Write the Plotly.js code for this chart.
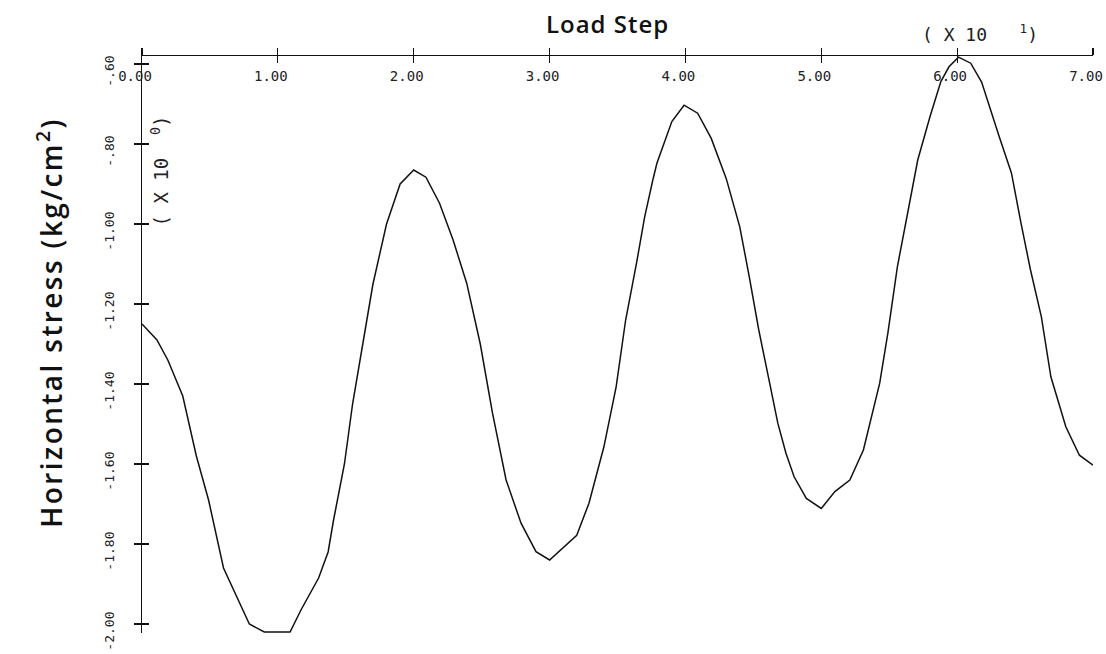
<!DOCTYPE html>
<html>
<head>
<meta charset="utf-8">
<script src="https://cdn.plot.ly/plotly-3.0.1.min.js"></script>
<style>html,body{margin:0;padding:0;background:#fff;}#chart{width:1106px;height:654px;}</style>
</head>
<body>
<div id="chart"></div>
<script>
// Load step (x 10) and horizontal stress (x 10^0 kg/cm^2)
const loadStep = [0.00,0.11,0.19,0.30,0.40,0.49,0.60,0.68,0.79,0.90,1.09,1.17,1.30,1.37,1.41,1.49,1.55,1.63,1.70,1.80,1.90,2.00,2.09,2.19,2.29,2.39,2.49,2.58,2.68,2.79,2.90,3.00,3.20,3.29,3.40,3.49,3.56,3.64,3.70,3.76,3.79,3.90,3.99,4.09,4.19,4.30,4.40,4.47,4.54,4.62,4.68,4.74,4.80,4.89,5.00,5.10,5.21,5.31,5.37,5.43,5.49,5.56,5.64,5.71,5.80,5.88,5.94,6.01,6.10,6.18,6.31,6.40,6.47,6.54,6.62,6.69,6.80,6.90,7.00];
const stress = [-1.25,-1.29,-1.34,-1.43,-1.58,-1.69,-1.86,-1.92,-2.00,-2.02,-2.02,-1.965,-1.885,-1.82,-1.74,-1.60,-1.45,-1.29,-1.15,-1.00,-0.90,-0.865,-0.883,-0.948,-1.04,-1.148,-1.30,-1.473,-1.64,-1.748,-1.819,-1.84,-1.778,-1.698,-1.557,-1.407,-1.24,-1.098,-0.982,-0.89,-0.848,-0.744,-0.703,-0.723,-0.786,-0.886,-1.007,-1.132,-1.265,-1.398,-1.498,-1.573,-1.632,-1.686,-1.711,-1.669,-1.64,-1.565,-1.482,-1.398,-1.273,-1.107,-0.965,-0.84,-0.732,-0.644,-0.607,-0.583,-0.598,-0.645,-0.782,-0.873,-0.998,-1.115,-1.232,-1.382,-1.507,-1.578,-1.603];

const xTickVals = [0,1,2,3,4,5,6,7];
const xTickText = ['0.00','1.00','2.00','3.00','4.00','5.00','6.00','7.00'];
const yTickVals = [-0.6,-0.8,-1.0,-1.2,-1.4,-1.6,-1.8,-2.0];
const yTickText = ['-.60','-.80','-1.00','-1.20','-1.40','-1.60','-1.80','-2.00'];

const xTitle = 'Load Step';
const yTitle = 'Horizontal stress (kg/cm<sup>2</sup>)';
const xScale = '(\u00a0X\u00a010\u00a0\u00a0\u00a0<sup>1</sup>)';
const yScale = '(\u00a0X\u00a010\u00a0\u00a0<sup>0</sup>)';

const mono = 'DejaVu Sans Mono, Liberation Mono, monospace';
const sans = 'Open Sans, Lato, sans-serif';

const traces = [
  {x: loadStep, y: stress, type: 'scatter', mode: 'lines',
   line: {color: '#111', width: 1.5}, hoverinfo: 'x+y'},
  {x: [], y: [], type: 'scatter', mode: 'lines', xaxis: 'x2', yaxis: 'y2', hoverinfo: 'skip', showlegend: false}
];

const layout = {
  width: 1106, height: 654,
  margin: {l: 142, r: 13, t: 56, b: 21},
  paper_bgcolor: '#fff', plot_bgcolor: '#fff',
  showlegend: false,
  xaxis: {
    side: 'top', range: [0, 7], showgrid: false, zeroline: false,
    showline: true, linecolor: '#111', linewidth: 1.5,
    tickmode: 'array', tickvals: xTickVals, ticktext: xTickText,
    ticks: 'outside', ticklen: 7, tickcolor: '#111', tickwidth: 1.2,
    ticklabelstandoff: -39, ticklabelshift: -7, ticklabeloverflow: 'allow',
    tickfont: {family: mono, size: 14, color: '#222'}
  },
  xaxis2: {
    side: 'top', overlaying: 'x', range: [0, 7], showgrid: false, zeroline: false,
    showline: false, tickmode: 'array', tickvals: xTickVals, showticklabels: false,
    ticks: 'inside', ticklen: 7, tickcolor: '#111', tickwidth: 1.2
  },
  yaxis: {
    range: [-2.0225, -0.58], showgrid: false, zeroline: false,
    showline: true, linecolor: '#111', linewidth: 1.5,
    tickmode: 'array', tickvals: yTickVals, ticktext: yTickText,
    ticks: 'outside', ticklen: 7, tickcolor: '#111', tickwidth: 1.2,
    tickangle: -90, ticklabelstandoff: 14, ticklabelshift: 9, ticklabeloverflow: 'allow',
    tickfont: {family: mono, size: 13, color: '#222'}
  },
  yaxis2: {
    overlaying: 'y', range: [-2.0225, -0.58], showgrid: false, zeroline: false,
    showline: false, tickmode: 'array', tickvals: yTickVals, showticklabels: false,
    ticks: 'inside', ticklen: 7, tickcolor: '#111', tickwidth: 1.2
  },
  annotations: [
    {text: '<span style="letter-spacing:1px">' + xTitle + '</span>', xref: 'paper', yref: 'paper', x: 0.489, y: 1.057, xanchor: 'center', yanchor: 'middle',
     showarrow: false, font: {family: sans, size: 24, color: '#111', weight: 600}},
    {text: '<span style="letter-spacing:2.4px">' + yTitle + '</span>', xref: 'paper', yref: 'paper', x: -0.097, y: 0.539, xanchor: 'center', yanchor: 'middle',
     textangle: -90, showarrow: false, font: {family: sans, size: 28, color: '#111', weight: 600}},
    {text: xScale, xref: 'paper', yref: 'paper', x: 0.881, y: 1.04, xanchor: 'center', yanchor: 'middle',
     showarrow: false, font: {family: mono, size: 18, color: '#222'}},
    {text: yScale, xref: 'paper', yref: 'paper', x: 0.019, y: 0.800, xanchor: 'center', yanchor: 'middle',
     textangle: -90, showarrow: false, font: {family: mono, size: 19, color: '#222'}}
  ]
};

Plotly.newPlot('chart', traces, layout, {displayModeBar: false, staticPlot: true});
</script>
</body>
</html>
